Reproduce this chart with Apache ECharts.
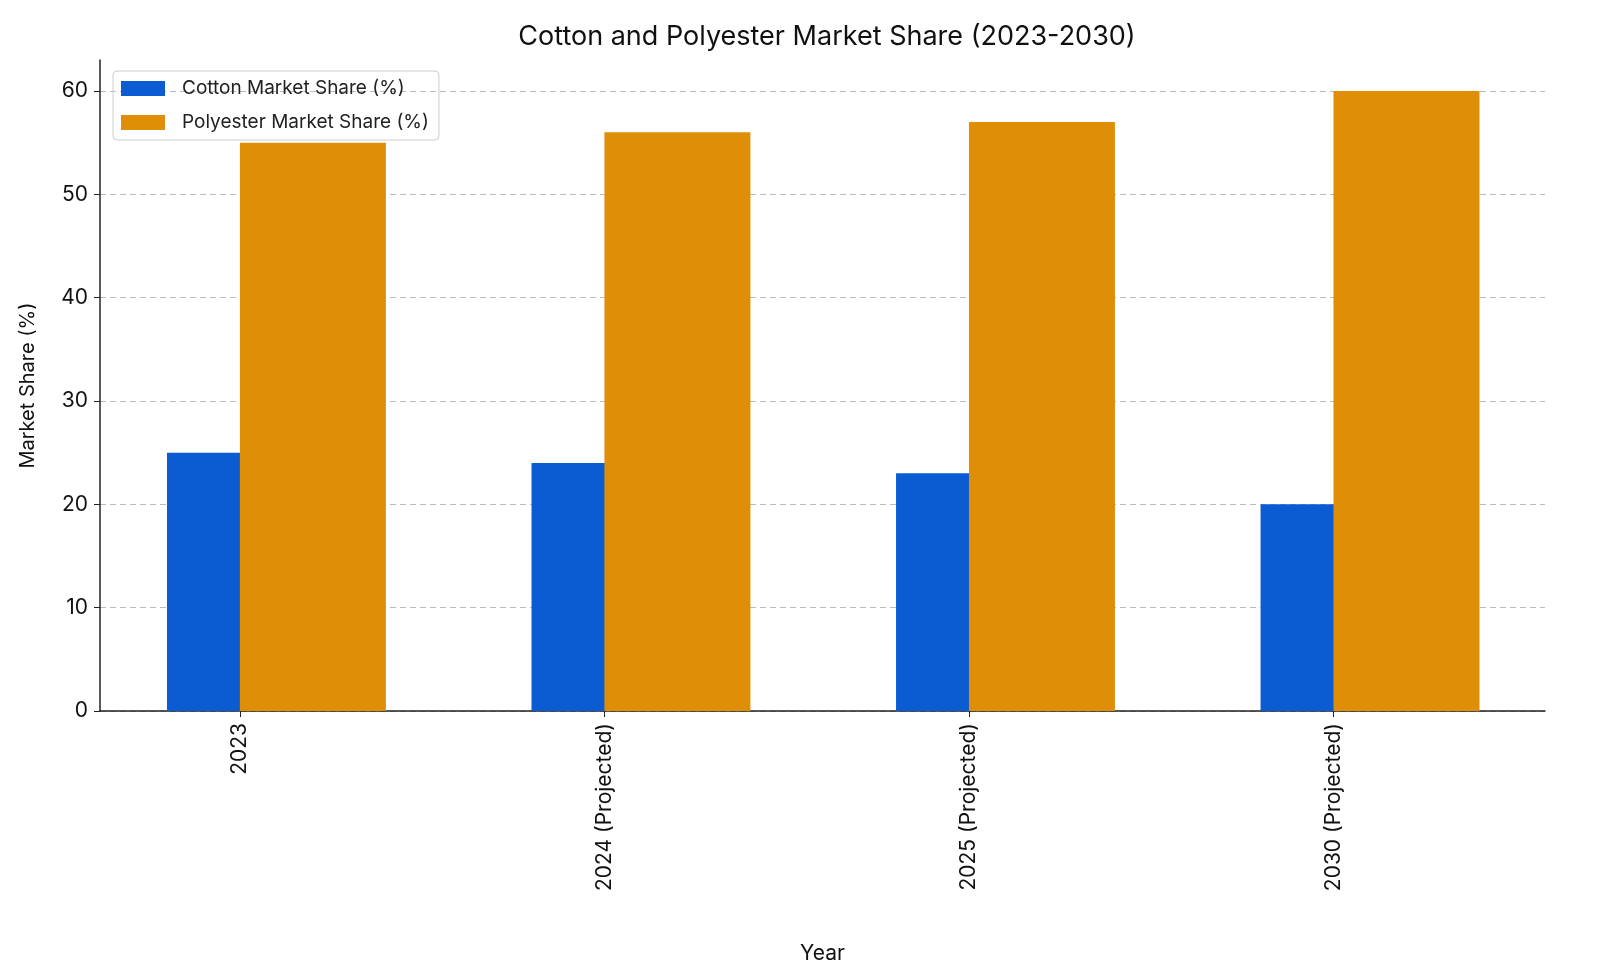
<!DOCTYPE html>
<html><head><meta charset="utf-8">
<script src="https://cdn.jsdelivr.net/npm/echarts@6/dist/echarts.min.js"></script>
<style>html,body{margin:0;padding:0;background:#fff}#c{width:1600px;height:960px}</style>
</head><body><div id="c"></div>
<script>
const categories = ['2023', '2024 (Projected)', '2025 (Projected)', '2030 (Projected)'];
const cotton = [25, 24, 23, 20];
const polyester = [55, 56, 57, 60];
const yTicks = [0, 10, 20, 30, 40, 50, 60];

const chart = echarts.init(document.getElementById('c'));
const F = 'Inter, "Open Sans", sans-serif';
chart.setOption({
  animation: false,
  textStyle: { fontFamily: F },
  title: { text: 'Cotton and Polyester Market Share (2023-2030)', left: 822, top: 18, textAlign: 'center',
    textStyle: { fontSize: 27, fontWeight: 'normal', color: '#111', fontFamily: F } },
  legend: { left: 113, top: 71, orient: 'vertical', itemWidth: 44, itemHeight: 15, itemGap: 15,
    padding: [8, 10, 8, 8], borderColor: '#ccc', borderWidth: 1, borderRadius: 4,
    textStyle: { fontSize: 19, color: '#222', fontFamily: F, padding: [0, 0, 0, 12] }, icon: 'rect' },
  grid: { left: 100, right: 55, top: 60, bottom: 249, outerBoundsMode: 'none', containLabel: false },
  xAxis: { type: 'value', min: -0.384, max: 3.58, name: 'Year', nameLocation: 'middle', nameGap: 232,
    nameTextStyle: { fontSize: 21, color: '#111' },
    axisLine: { show: true, onZero: false, lineStyle: { color: '#222', width: 1.5 } },
    axisTick: { show: true, customValues: [0, 1, 2, 3], length: 6, lineStyle: { color: '#222' } },
    axisLabel: { customValues: [0, 1, 2, 3], rotate: 90, fontSize: 21, color: '#111', margin: 12,
      formatter: v => categories[Math.round(v)] },
    splitLine: { show: false } },
  yAxis: { type: 'value', min: 0, max: 63, name: 'Market Share (%)', nameLocation: 'middle', nameGap: 62,
    nameTextStyle: { fontSize: 20, color: '#111' },
    axisLine: { show: true, onZero: false, lineStyle: { color: '#222', width: 1.5 } },
    axisTick: { show: true, customValues: yTicks, length: 6, lineStyle: { color: '#222' } },
    axisLabel: { customValues: yTicks, fontSize: 21, color: '#111', margin: 12 },
    splitLine: { show: true, lineStyle: { type: [6, 4], color: '#bbb', width: 1 } } },
  series: [
    { name: 'Cotton Market Share (%)', type: 'bar', barWidth: 146, barGap: '-100%',
      itemStyle: { color: '#0b5bd3' }, data: cotton.map((v, i) => [i, v]) },
    { name: 'Polyester Market Share (%)', type: 'bar', barWidth: 146, barGap: '-100%',
      itemStyle: { color: '#de8e07' }, data: polyester.map((v, i) => [i + 0.2, v]) }
  ]
});
</script></body></html>
